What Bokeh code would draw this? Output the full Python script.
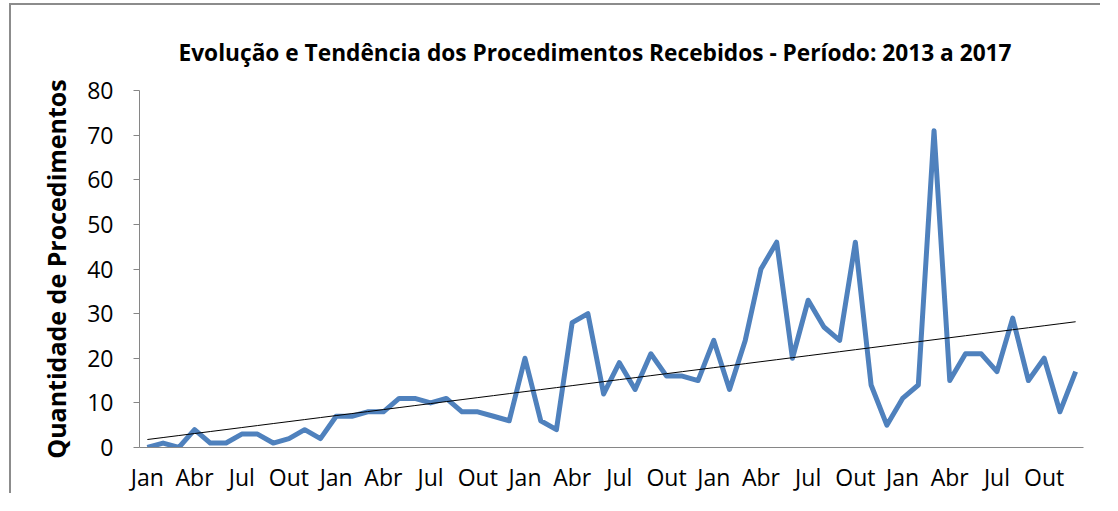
import numpy as np
from bokeh.plotting import figure
from bokeh.models import FixedTicker, Range1d
from bokeh.embed import file_html
from bokeh.resources import INLINE

months = ["Jan", "Fev", "Mar", "Abr", "Mai", "Jun", "Jul", "Ago", "Set", "Out", "Nov", "Dez"]
years = [2013, 2014, 2015, 2016, 2017]
v2013 = [0, 1, 0, 4, 1, 1, 3, 3, 1, 2, 4, 2]
v2014 = [7, 7, 8, 8, 11, 11, 10, 11, 8, 8, 7, 6]
v2015 = [20, 6, 4, 28, 30, 12, 19, 13, 21, 16, 16, 15]
v2016 = [24, 13, 24, 40, 46, 20, 33, 27, 24, 46, 14, 5]
v2017 = [11, 14, 71, 15, 21, 21, 17, 29, 15, 20, 8, 17]
title = "Evolução e Tendência dos Procedimentos Recebidos - Período: 2013 a 2017"
ylabel = "Quantidade de Procedimentos"
yticks = [0, 10, 20, 30, 40, 50, 60, 70, 80]

values = v2013 + v2014 + v2015 + v2016 + v2017
x = np.arange(len(values))
labels = [m for y in years for m in months]

# linear trend line
a, b = np.polyfit(x, values, 1)
trend = a * x + b

FONT = "Open Sans"

p = figure(width=1091, height=490, output_backend="svg", toolbar_location=None,
           x_range=Range1d(-0.5, len(values) - 0.5), y_range=Range1d(0, 80),
           min_border_left=128, min_border_right=19, min_border_top=85, min_border_bottom=48)

# chart-area border (top and left edges visible in the reference)
p.styles = {"margin-left": "9px", "margin-top": "3px",
            "border-left": "2px solid #8c8c8c", "border-top": "2px solid #8c8c8c"}

p.title.text = title
p.title.align = "left"
p.title.offset = 39
p.title.text_font = FONT
p.title.text_font_size = "22.7px"
p.title.text_font_style = "bold"
p.title.text_color = "#000000"
p.title.standoff = 45

p.line(x, values, line_color="#4F81BD", line_width=5, line_join="round")
p.line(x, trend, line_color="#000000", line_width=1)

p.outline_line_color = None
p.xgrid.grid_line_color = None
p.ygrid.grid_line_color = None

p.yaxis.ticker = FixedTicker(ticks=yticks)
p.yaxis.axis_line_color = "#868686"
p.yaxis.major_tick_line_color = "#868686"
p.yaxis.major_tick_out = 6
p.yaxis.major_tick_in = 0
p.yaxis.minor_tick_line_color = None
p.yaxis.major_label_text_font = FONT
p.yaxis.major_label_text_font_size = "23px"
p.yaxis.major_label_text_color = "#000000"
p.yaxis.major_label_standoff = 20
p.yaxis.axis_label = ylabel
p.yaxis.axis_label_text_font = FONT
p.yaxis.axis_label_text_font_size = "25px"
p.yaxis.axis_label_text_font_style = "bold"
p.yaxis.axis_label_text_color = "#000000"
p.yaxis.axis_label_standoff = 11

tick_pos = [int(i) for i in x if labels[i] in ("Jan", "Abr", "Jul", "Out")]
p.xaxis.ticker = FixedTicker(ticks=tick_pos)
p.xaxis.major_label_overrides = {i: labels[i] for i in tick_pos}
p.xaxis.axis_line_color = "#868686"
p.xaxis.major_tick_line_color = None
p.xaxis.major_tick_out = 0
p.xaxis.major_tick_in = 0
p.xaxis.minor_tick_line_color = None
p.xaxis.major_label_text_font = FONT
p.xaxis.major_label_text_font_size = "23px"
p.xaxis.major_label_text_color = "#000000"
p.xaxis.major_label_standoff = 13

open("out.html", "w").write(file_html(p, INLINE))
